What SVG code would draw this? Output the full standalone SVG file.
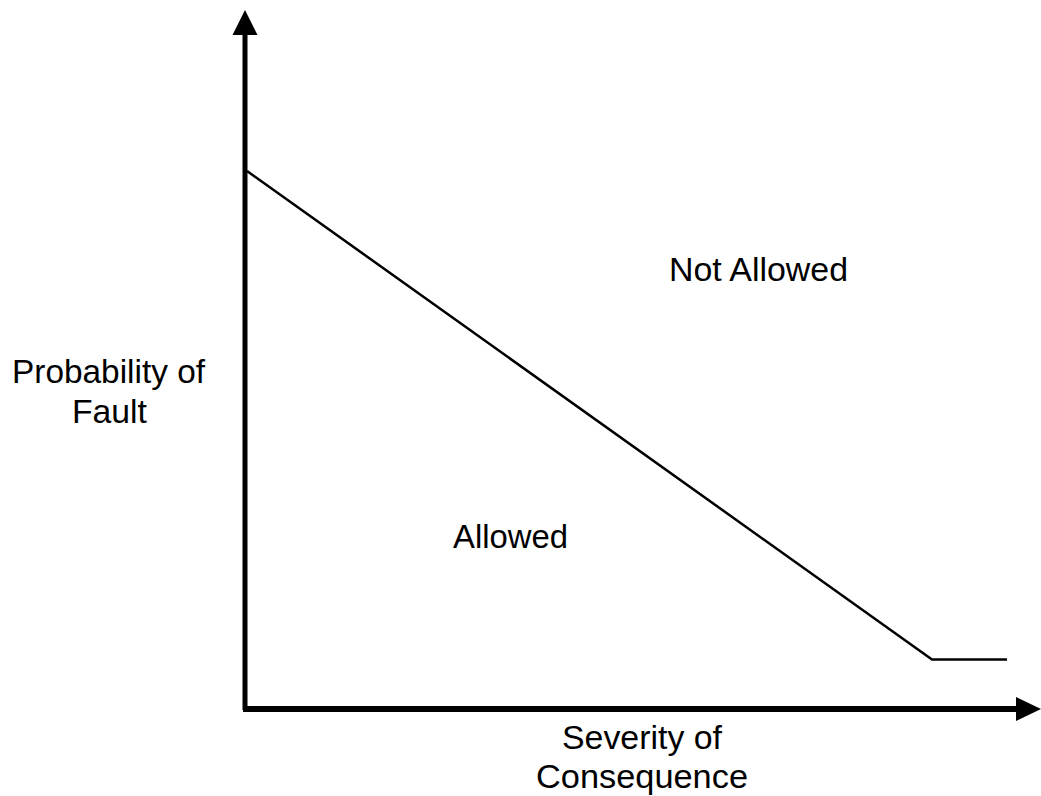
<svg xmlns="http://www.w3.org/2000/svg" width="1041" height="796" viewBox="0 0 1041 796">
<style>
text{font-family:"Liberation Sans",Arial,sans-serif;font-size:33px;fill:#000}
.ax{stroke:#000;stroke-width:5;fill:none}
.ln{stroke:#000;fill:none}
</style>
<rect width="1041" height="796" fill="#fff"/>
<g id="connectors">
<line class="ax" x1="245" y1="710" x2="245" y2="34"/>
<path d="M245,10 L257.5,35 L232.5,35 Z" fill="#000"/>
<line class="ax" x1="243" y1="709" x2="1017" y2="709" style="stroke-width:6"/>
<path d="M1041,709 L1016,697 L1016,721 Z" fill="#000"/>
<polyline class="ln" points="247,171 932,659.5 1007,659.5" style="stroke-width:2.5"/>
</g>
<g id="not-allowed"><text x="669" y="281" textLength="179" lengthAdjust="spacingAndGlyphs">Not Allowed</text></g>
<g id="allowed"><text x="453" y="548" textLength="115" lengthAdjust="spacingAndGlyphs">Allowed</text></g>
<g id="y-label"><text x="12" y="383" textLength="193" lengthAdjust="spacingAndGlyphs">Probability of</text><text x="72" y="423" textLength="75" lengthAdjust="spacingAndGlyphs">Fault</text></g>
<g id="x-label"><text x="562" y="749" textLength="160" lengthAdjust="spacingAndGlyphs">Severity of</text><text x="536" y="788" textLength="212" lengthAdjust="spacingAndGlyphs">Consequence</text></g>
</svg>
